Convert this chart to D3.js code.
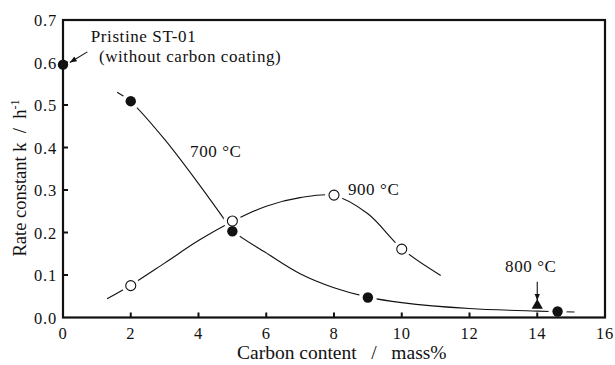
<!DOCTYPE html>
<html>
<head>
<meta charset="utf-8">
<script src="https://cdn.jsdelivr.net/npm/d3@7"></script>
<style>
  body { margin: 0; background: #fff; }
  svg text { font-family: "Liberation Serif", "Times New Roman", serif; fill: #111; white-space: pre; }
  .tick-label { font-size: 16.5px; letter-spacing: 0.8px; }
  .note { font-size: 17px; letter-spacing: 0.6px; }
  .axis-label { font-size: 19.5px; }
</style>
</head>
<body>
<svg id="chart" width="615" height="365"></svg>
<script>
// DATA
// markers, 700 °C (filled circles)
const c700X = [0, 2, 5, 9, 14.6];
const c700Y = [0.595, 0.509, 0.203, 0.047, 0.014];
// markers, 900 °C (open circles)
const c900X = [2, 5, 8, 10];
const c900Y = [0.075, 0.227, 0.288, 0.161];
// marker, 800 °C (triangle)
const c800X = [14];
const c800Y = [0.028];
// guide points of the hand drawn curves
const line700X = [1.6, 2.0, 3.0, 4.0, 4.7, 5.0, 6.0, 7.0, 8.0, 9.0, 10.0, 12.0, 14.0, 15.1];
const line700Y = [0.53, 0.508, 0.419, 0.315, 0.238, 0.205, 0.152, 0.103, 0.07, 0.048, 0.035, 0.021, 0.015, 0.013];
const line900X = [1.3, 2.0, 3.0, 4.0, 5.0, 6.0, 7.0, 8.0, 9.0, 10.0, 11.15];
const line900Y = [0.044, 0.076, 0.128, 0.181, 0.226, 0.262, 0.282, 0.287, 0.244, 0.162, 0.099];
// ticks
const xTicks = [0, 2, 4, 6, 8, 10, 12, 14, 16];
const yTicks = [0.0, 0.1, 0.2, 0.3, 0.4, 0.5, 0.6, 0.7];

// SETUP
const margin = { top: 20, right: 10, bottom: 47.5, left: 63 },
    width = 615 - margin.left - margin.right,
    height = 365 - margin.top - margin.bottom;

const svg = d3.select("#chart")
    .append("g")
    .attr("transform", `translate(${margin.left},${margin.top})`);

// 1: SCALES
const x = d3.scaleLinear().domain([0, 16]).range([0, width]);
const y = d3.scaleLinear().domain([0, 0.7]).range([height, 0]);

const zip = (xs, ys) => xs.map((v, i) => ({ x: v, y: ys[i] }));

// 2: CURVES
const line = d3.line()
    .x(d => x(d.x))
    .y(d => y(d.y))
    .curve(d3.curveCatmullRom.alpha(0.5));

[zip(line700X, line700Y), zip(line900X, line900Y)].forEach(pts => {
    svg.append("path")
        .datum(pts)
        .attr("d", line)
        .attr("fill", "none")
        .attr("stroke", "#111")
        .attr("stroke-width", 1.1);
});

// 2.a: white halos so the curves break around the markers
const halos = zip(c700X, c700Y).slice(1).concat(zip(c900X, c900Y));
svg.selectAll("circle.halo")
    .data(halos)
    .enter()
    .append("circle")
    .attr("class", "halo")
    .attr("cx", d => x(d.x))
    .attr("cy", d => y(d.y))
    .attr("r", 9)
    .attr("fill", "#fff");

// 3: FRAME + TICKS (inward)
svg.append("rect")
    .attr("width", width)
    .attr("height", height)
    .attr("fill", "none")
    .attr("stroke", "#111")
    .attr("stroke-width", 2.2);

svg.selectAll("line.xt")
    .data(xTicks.slice(1, -1))
    .enter()
    .append("line")
    .attr("x1", d => x(d)).attr("x2", d => x(d))
    .attr("y1", height).attr("y2", height - 5)
    .attr("stroke", "#111").attr("stroke-width", 2);

svg.selectAll("line.yt")
    .data(yTicks.slice(1, -1))
    .enter()
    .append("line")
    .attr("x1", 0).attr("x2", 5)
    .attr("y1", d => y(d)).attr("y2", d => y(d))
    .attr("stroke", "#111").attr("stroke-width", 2);

svg.selectAll("text.xl")
    .data(xTicks)
    .enter()
    .append("text")
    .attr("class", "tick-label")
    .attr("x", d => x(d))
    .attr("y", height + 21)
    .attr("text-anchor", "middle")
    .text(d => d);

svg.selectAll("text.yl")
    .data(yTicks)
    .enter()
    .append("text")
    .attr("class", "tick-label")
    .attr("x", -6)
    .attr("y", d => y(d) + 6)
    .attr("text-anchor", "end")
    .text(d => d.toFixed(1));

// 4: MARKERS
svg.selectAll("circle.f700")
    .data(zip(c700X, c700Y))
    .enter()
    .append("circle")
    .attr("cx", d => x(d.x))
    .attr("cy", d => y(d.y))
    .attr("r", 5.2)
    .attr("fill", "#111");

svg.selectAll("circle.o900")
    .data(zip(c900X, c900Y))
    .enter()
    .append("circle")
    .attr("cx", d => x(d.x))
    .attr("cy", d => y(d.y))
    .attr("r", 5)
    .attr("fill", "#fff")
    .attr("stroke", "#111")
    .attr("stroke-width", 1.1);

svg.selectAll("path.t800")
    .data(zip(c800X, c800Y))
    .enter()
    .append("path")
    .attr("d", d3.symbol(d3.symbolTriangle, 55))
    .attr("transform", d => `translate(${x(d.x)},${y(d.y)})`)
    .attr("fill", "#111");

// 5: ANNOTATIONS
svg.append("defs").append("marker")
    .attr("id", "head")
    .attr("viewBox", "0 0 10 10")
    .attr("refX", 10).attr("refY", 5)
    .attr("markerWidth", 7).attr("markerHeight", 7)
    .attr("markerUnits", "userSpaceOnUse")
    .attr("orient", "auto")
    .append("path")
    .attr("d", "M0,1 L10,5 L0,9 Z")
    .attr("fill", "#111");

const note = (tx, ty, s) => svg.append("text")
    .attr("class", "note")
    .attr("x", x(tx)).attr("y", y(ty))
    .text(s);

note(0.82, 0.649, "Pristine ST-01");
note(1.06, 0.602, "(without carbon coating)");
note(3.75, 0.378, "700 °C");
note(8.41, 0.288, "900 °C");
note(13.05, 0.108, "800 °C");

svg.append("line")
    .attr("x1", x(0.72)).attr("y1", y(0.625))
    .attr("x2", x(0.2)).attr("y2", y(0.6))
    .attr("stroke", "#111").attr("stroke-width", 1.1)
    .attr("marker-end", "url(#head)");

svg.append("line")
    .attr("x1", x(14)).attr("y1", y(0.084))
    .attr("x2", x(14)).attr("y2", y(0.04))
    .attr("stroke", "#111").attr("stroke-width", 1.1)
    .attr("marker-end", "url(#head)");

// 6: AXIS TITLES
svg.append("text")
    .attr("class", "axis-label")
    .attr("x", 237 - margin.left)
    .attr("y", height + 41)
    .text("Carbon content   /   mass%");

const yt = svg.append("text")
    .attr("class", "axis-label")
    .style("font-size", "18.5px")
    .attr("transform", "rotate(-90)")
    .attr("x", -(178 - margin.top))
    .attr("y", 26 - margin.left)
    .attr("text-anchor", "middle");
yt.append("tspan").text("Rate constant k  /  h");
yt.append("tspan").attr("dy", -7).style("font-size", "12px").text("-1");
</script>
</body>
</html>
